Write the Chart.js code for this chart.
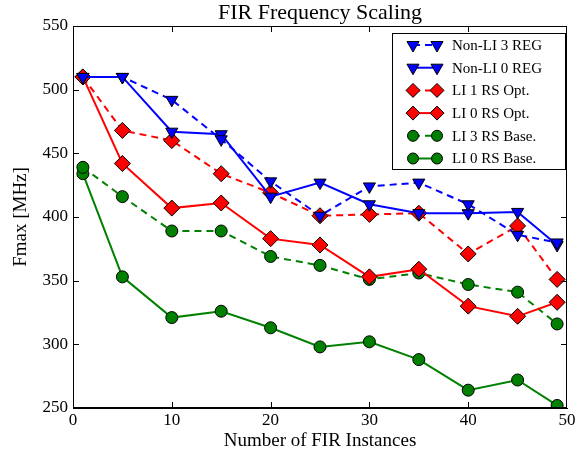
<!DOCTYPE html>
<html>
<head>
<meta charset="utf-8">
<script src="https://cdn.jsdelivr.net/npm/chart.js@4"></script>
<style>
  html, body { margin: 0; padding: 0; background: #fff; }
  #wrap { width: 586px; height: 455px; }
</style>
</head>
<body>
<div id="wrap"><canvas id="firChart" width="586" height="455"></canvas></div>
<script>
// number of FIR instances (x positions)
const instances = [1, 5, 10, 15, 20, 25, 30, 35, 40, 45, 49];

// Fmax values [MHz] per configuration
const nonLi3Reg  = [510, 510, 492, 461, 428, 401, 424, 427, 410, 386, 380];
const nonLi0Reg  = [510, 510, 467, 465, 416, 427, 410, 403, 403, 404, 378];
const li1RsOpt   = [510, 468, 460, 434, 419, 401, 402, 403, 371, 393, 351];
const li0RsOpt   = [510, 442, 407, 411, 383, 378, 353, 359, 330, 322, 333];
const li3RsBase  = [439, 416, 389, 389, 369, 362, 351, 356, 347, 341, 316];
const li0RsBase  = [434, 353, 321, 326, 313, 298, 302, 288, 264, 272, 252];

const seriesLabels = ['Non-LI 3 REG', 'Non-LI 0 REG', 'LI 1 RS Opt.', 'LI 0 RS Opt.', 'LI 3 RS Base.', 'LI 0 RS Base.'];
const xTicks = [0, 10, 20, 30, 40, 50];
const yTicks = [250, 300, 350, 400, 450, 500, 550];

const SERIF = '"Liberation Serif", "DejaVu Serif", serif';
const BLUE = '#0000ff', RED = '#ff0000', GREEN = '#008000';
const DASH = [7, 5];

function toPoints(values) {
  return values.map((v, i) => ({ x: instances[i], y: v }));
}

function series(label, values, color, dashed, style, radius, rotation) {
  return {
    label: label,
    data: toPoints(values),
    borderColor: color,
    backgroundColor: color,
    borderWidth: 2,
    borderDash: dashed ? DASH : [],
    pointStyle: style,
    pointRotation: rotation || 0,
    pointRadius: radius,
    pointBackgroundColor: color,
    pointBorderColor: '#000',
    pointBorderWidth: 1,
    tension: 0
  };
}

const datasets = [
  series(seriesLabels[0], nonLi3Reg, BLUE, true, 'triangle', 7, 180),
  series(seriesLabels[1], nonLi0Reg, BLUE, false, 'triangle', 7, 180),
  series(seriesLabels[2], li1RsOpt, RED, true, 'rectRot', 8),
  series(seriesLabels[3], li0RsOpt, RED, false, 'rectRot', 8),
  series(seriesLabels[4], li3RsBase, GREEN, true, 'circle', 6),
  series(seriesLabels[5], li0RsBase, GREEN, false, 'circle', 6)
];

// draw a marker the same way for the legend
function marker(ctx, style, x, y, r, color) {
  ctx.save();
  ctx.fillStyle = color;
  ctx.strokeStyle = '#000';
  ctx.lineWidth = 1;
  ctx.setLineDash([]);
  ctx.beginPath();
  if (style === 'triangle') {
    ctx.moveTo(x, y + r);
    ctx.lineTo(x - r * 0.866, y - r * 0.5);
    ctx.lineTo(x + r * 0.866, y - r * 0.5);
    ctx.closePath();
  } else if (style === 'rectRot') {
    ctx.moveTo(x - r, y);
    ctx.lineTo(x, y - r);
    ctx.lineTo(x + r, y);
    ctx.lineTo(x, y + r);
    ctx.closePath();
  } else {
    ctx.arc(x, y, r, 0, Math.PI * 2);
  }
  ctx.fill();
  ctx.stroke();
  ctx.restore();
}

// matplotlib-like frame: inward ticks on all sides, titles and boxed legend
const framePlugin = {
  id: 'frame',
  afterDraw(chart) {
    const ctx = chart.ctx;
    const a = chart.chartArea;
    const xs = chart.scales.x, ys = chart.scales.y;
    ctx.save();
    ctx.strokeStyle = '#000';
    ctx.lineWidth = 1;
    ctx.strokeRect(a.left + 0.5, a.top + 0.5, a.right - a.left - 1, a.bottom - a.top - 1);
    ctx.beginPath();
    xTicks.slice(1, -1).forEach(t => {
      const px = Math.round(xs.getPixelForValue(t)) + 0.5;
      ctx.moveTo(px, a.bottom); ctx.lineTo(px, a.bottom - 6);
      ctx.moveTo(px, a.top); ctx.lineTo(px, a.top + 6);
    });
    yTicks.slice(1, -1).forEach(t => {
      const py = Math.round(ys.getPixelForValue(t)) + 0.5;
      ctx.moveTo(a.left, py); ctx.lineTo(a.left + 6, py);
      ctx.moveTo(a.right, py); ctx.lineTo(a.right - 6, py);
    });
    ctx.stroke();

    // titles
    ctx.fillStyle = '#000';
    ctx.textAlign = 'center';
    ctx.textBaseline = 'alphabetic';
    ctx.font = '22px ' + SERIF;
    ctx.fillText('FIR Frequency Scaling', (a.left + a.right) / 2, 19);
    ctx.font = '19px ' + SERIF;
    ctx.fillText('Number of FIR Instances', (a.left + a.right) / 2, 446);
    ctx.save();
    ctx.translate(26, (a.top + a.bottom) / 2);
    ctx.rotate(-Math.PI / 2);
    ctx.fillText('Fmax [MHz]', 0, 0);
    ctx.restore();

    // legend box
    const lx = 392, ly = 33, lw = 173, lh = 136;
    ctx.fillStyle = '#fff';
    ctx.fillRect(lx, ly, lw, lh);
    ctx.strokeRect(lx + 0.5, ly + 0.5, lw, lh);
    ctx.font = '15px ' + SERIF;
    ctx.textAlign = 'left';
    ctx.textBaseline = 'middle';
    chart.data.datasets.forEach((ds, i) => {
      const y = ly + 12 + i * 22.7;
      ctx.save();
      ctx.strokeStyle = ds.borderColor;
      ctx.lineWidth = 2;
      ctx.setLineDash(ds.borderDash);
      ctx.beginPath();
      ctx.moveTo(413, y); ctx.lineTo(437, y);
      ctx.stroke();
      ctx.restore();
      const r = ds.pointStyle === 'circle' ? 5.5 : 7;
      marker(ctx, ds.pointStyle, 413, y, r, ds.borderColor);
      marker(ctx, ds.pointStyle, 437, y, r, ds.borderColor);
      ctx.fillStyle = '#000';
      ctx.fillText(ds.label, 452, y + 1);
    });
    ctx.restore();
  }
};

new Chart(document.getElementById('firChart'), {
  type: 'line',
  data: { datasets: datasets },
  options: {
    responsive: false,
    animation: false,
    layout: { padding: { top: 26, right: 19, left: 0, bottom: 0 } },
    plugins: {
      legend: { display: false },
      title: { display: false },
      tooltip: { enabled: false }
    },
    scales: {
      x: {
        type: 'linear',
        min: 0,
        max: 50,
        afterFit: s => { s.height = 47; },
        afterBuildTicks: s => { s.ticks = xTicks.map(v => ({ value: v })); },
        grid: { display: false, drawTicks: false },
        border: { display: true, color: '#000' },
        ticks: { color: '#000', font: { family: SERIF, size: 17 }, padding: 2, maxRotation: 0 }
      },
      y: {
        min: 250,
        max: 550,
        afterFit: s => { s.width = 73; },
        afterBuildTicks: s => { s.ticks = yTicks.map(v => ({ value: v })); },
        grid: { display: false, drawTicks: false },
        border: { display: true, color: '#000' },
        ticks: { color: '#000', font: { family: SERIF, size: 17 }, padding: 5 }
      }
    }
  },
  plugins: [framePlugin]
});
</script>
</body>
</html>
